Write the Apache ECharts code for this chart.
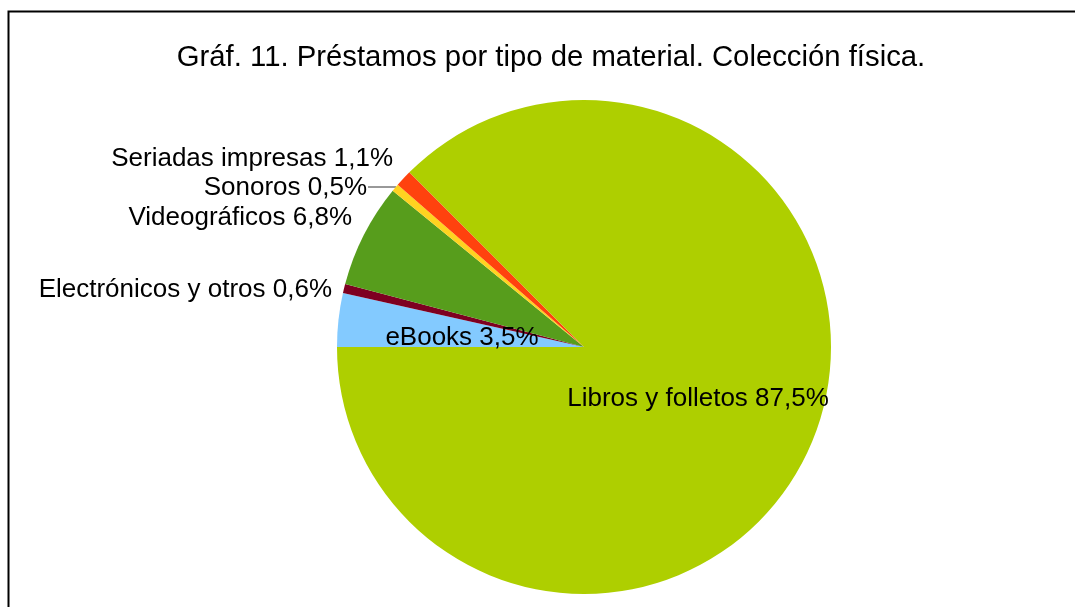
<!DOCTYPE html>
<html>
<head>
<meta charset="utf-8">
<script src="https://cdn.jsdelivr.net/npm/echarts@6/dist/echarts.min.js"></script>
<style>
  html, body { margin: 0; padding: 0; background: #fff; }
  #chart { width: 1075px; height: 607px; }
</style>
</head>
<body>
<div id="chart"></div>
<script>
// order goes clockwise from 9 o'clock
const categories = ['eBooks', 'Electrónicos y otros', 'Videográficos', 'Sonoros', 'Seriadas impresas', 'Libros y folletos']
const values = [3.5, 0.6, 6.8, 0.5, 1.1, 87.5]
const colors = ['#83caff', '#7e0021', '#579d1c', '#ffd320', '#ff420e', '#aecf00']

// where each label sits (LibreOffice put them by hand)
const labelSpots = [
  { x: 462, y: 338, align: 'center' },
  { x: 332, y: 290, align: 'right' },
  { x: 352, y: 218, align: 'right' },
  { x: 367, y: 188, align: 'right', line: [[368, 187], [396, 187]] },
  { x: 393, y: 159, align: 'right' },
  { x: 698, y: 399, align: 'center' }
]

const chart = echarts.init(document.getElementById('chart'), null, { renderer: 'canvas' })

const fmtPct = v => v.toFixed(1).replace('.', ',') + '%'

chart.setOption({
  backgroundColor: '#fff',
  animation: false,
  title: {
    text: 'Gráf. 11. Préstamos por tipo de material. Colección física.',
    left: 546,
    textAlign: 'center',
    top: 38,
    textStyle: { fontFamily: 'Liberation Sans', fontSize: 29.3, fontWeight: 'normal', color: '#000' }
  },
  graphic: [{
    type: 'rect',
    shape: { x: 8.5, y: 11.5, width: 1300, height: 900 },
    style: { fill: 'none', stroke: '#000', lineWidth: 2 },
    silent: true
  }],
  series: [{
    type: 'pie',
    center: [584, 347],
    radius: 247,
    startAngle: 180,
    clockwise: true,
    avoidLabelOverlap: false,
    itemStyle: { borderWidth: 0 },
    emphasis: { disabled: true },
    label: {
      show: true,
      position: 'outside',
      formatter: p => p.name + ' ' + fmtPct(p.value),
      fontFamily: 'Liberation Sans',
      fontSize: 26,
      color: '#000'
    },
    labelLine: { show: true, lineStyle: { color: '#333', width: 1 } },
    labelLayout: p => {
      const s = labelSpots[p.dataIndex]
      const out = { x: s.x, y: s.y, align: s.align, verticalAlign: 'middle' }
      out.labelLinePoints = s.line || [[0, 0], [0, 0]]
      return out
    },
    data: categories.map((name, i) => ({
      name,
      value: values[i],
      itemStyle: { color: colors[i] },
      labelLine: { show: !!labelSpots[i].line }
    }))
  }]
})
</script>
</body>
</html>
